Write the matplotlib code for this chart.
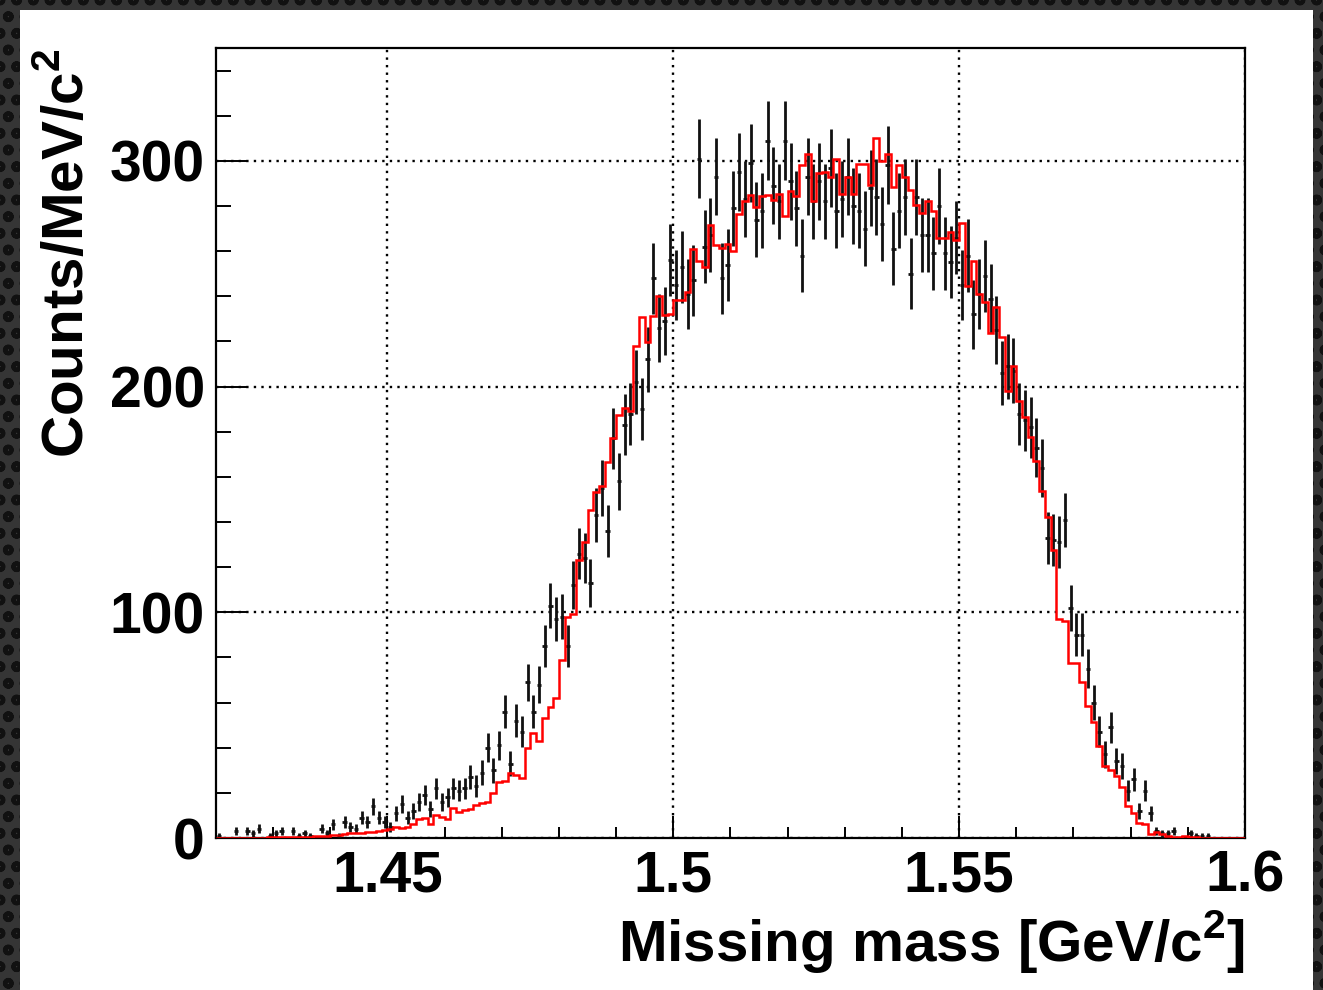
import numpy as np
import matplotlib
matplotlib.use("Agg")
import matplotlib.pyplot as plt
from matplotlib.patches import Rectangle

# Missing mass histogram, 1 MeV bins from 1.42 to 1.60 GeV/c^2
x_min, x_max = 1.42, 1.60
data_counts = [
    1, 0, 0, 3, 0, 3, 2, 4, 0, 1,
    2, 3, 0, 3, 1, 2, 1, 0, 4, 2,
    6, 1, 7, 5, 4, 9, 7, 14, 9, 7,
    5, 11, 15, 9, 12, 16, 19, 13, 22, 16,
    18, 22, 21, 22, 27, 23, 29, 40, 30, 41,
    56, 33, 52, 47, 69, 56, 68, 85, 103, 97,
    98, 85, 112, 126, 124, 113, 143, 155, 136, 177,
    158, 183, 188, 202, 190, 212, 248, 226, 229, 256,
    245, 253, 241, 247, 301, 262, 267, 293, 248, 254,
    279, 295, 283, 299, 274, 278, 309, 289, 282, 309,
    291, 279, 258, 293, 282, 291, 282, 297, 278, 283,
    293, 280, 278, 270, 288, 284, 272, 298, 261, 278,
    284, 250, 284, 267, 267, 259, 280, 259, 255, 266,
    245, 258, 232, 241, 249, 239, 225, 206, 209, 207,
    188, 185, 182, 173, 164, 133, 132, 131, 141, 102,
    90, 90, 75, 60, 47, 37, 49, 34, 32, 21,
    26, 12, 21, 11, 3, 2, 2, 3, 0, 0,
    2, 1, 1, 1, 0, 0, 0, 0, 0, 0,
]
mc_counts = [
    0.1, 0.1, 0.1, 0.1, 0.1, 0.2, 0.2, 0.2, 0.2, 0.3,
    0.3, 0.3, 0.3, 0.4, 0.4, 0.5, 0.6, 0.7, 0.9, 1.0,
    1.2, 1.3, 1.6, 2.0, 2.2, 2.4, 2.6, 2.8, 3.0, 3.4,
    3.9, 5.0, 4.6, 5.0, 6.3, 8.3, 9.0, 6.3, 10.2, 9.5,
    8.3, 13.2, 11.4, 12.4, 12.7, 14.7, 15.4, 16.1, 19.9, 24.6,
    25.3, 28.7, 28.0, 26.5, 39.9, 46.5, 43.1, 53.2, 57.9, 62.1,
    78.7, 98.1, 99.1, 123.3, 131.0, 145.5, 153.2, 155.9, 166.8, 177.2,
    187.3, 190.5, 189.0, 218.0, 231.0, 219.8, 231.4, 240.0, 231.6, 232.0,
    238.3, 238.3, 241.8, 261.0, 255.6, 253.0, 271.7, 262.8, 261.5, 263.0,
    260.0, 276.5, 282.0, 285.0, 279.6, 284.4, 285.0, 282.8, 285.3, 275.4,
    286.8, 284.4, 298.0, 303.0, 282.4, 294.6, 295.0, 292.9, 301.0, 285.5,
    293.0, 285.3, 298.7, 298.7, 289.5, 310.0, 300.0, 303.0, 288.4, 298.0,
    292.7, 287.3, 280.6, 277.0, 282.4, 278.0, 265.8, 265.8, 268.3, 265.0,
    272.4, 244.7, 255.7, 241.0, 237.3, 223.9, 235.4, 222.0, 197.9, 209.0,
    193.6, 186.5, 177.6, 167.2, 153.9, 142.0, 127.7, 96.9, 96.1, 77.6,
    77.6, 69.0, 58.7, 51.2, 40.6, 32.0, 30.2, 27.6, 22.5, 14.2,
    11.0, 6.8, 6.1, 1.8, 2.8, 1.8, 0.9, 0.6, 0.3, 0.9,
    0.3, 0.3, 0.2, 0.2, 0.1, 0.1, 0.1, 0.1, 0.1, 0.1,
]
x_ticks = [1.45, 1.50, 1.55, 1.60]
x_tick_labels = ["1.45", "1.5", "1.55", "1.6"]
y_ticks = [0, 100, 200, 300]
y_tick_labels = ["0", "100", "200", "300"]

plt.rcParams["font.family"] = "Liberation Sans"
plt.rcParams["font.weight"] = "bold"
plt.rcParams["mathtext.fontset"] = "custom"
plt.rcParams["mathtext.rm"] = "Liberation Sans:bold"
plt.rcParams["mathtext.bf"] = "Liberation Sans:bold"
plt.rcParams["hatch.linewidth"] = 3.0
plt.rcParams["hatch.color"] = "#111111"

W, H = 1323, 990
fig = plt.figure(figsize=(W / 100, H / 100), dpi=100, facecolor="#353535")
# dotted dark frame + white canvas
fig.patches.append(Rectangle((0, 0), 1, 1, transform=fig.transFigure, facecolor="#353535",
                             edgecolor="#111111", hatch="o", lw=0, zorder=-2))
fig.patches.append(Rectangle((20 / W, 0), (1313 - 20) / W, 980 / H, transform=fig.transFigure,
                             facecolor="white", edgecolor="none", zorder=-1))

ax = fig.add_axes([216 / W, (H - 838) / H, (1245 - 216) / W, (838 - 48) / H])

data = np.array(data_counts, dtype=float)
mc = np.array(mc_counts, dtype=float)
edges = np.linspace(x_min, x_max, len(data) + 1)
centers = 0.5 * (edges[:-1] + edges[1:])
m = data > 0

ax.errorbar(centers[m], data[m], yerr=np.sqrt(data[m]), xerr=0.0004, fmt="none",
            ecolor="#111111", elinewidth=2.0, capsize=0, zorder=3)
ax.stairs(mc, edges, color="red", lw=1.8, zorder=4)

ax.set_xlim(x_min, x_max)
ax.set_ylim(0, 350)
ax.set_xticks(x_ticks)
ax.set_xticklabels(x_tick_labels)
ax.set_xticks(np.arange(1.42, 1.6001, 0.01), minor=True)
ax.set_yticks(y_ticks)
ax.set_yticklabels(y_tick_labels)
ax.set_yticks(np.arange(0, 351, 20), minor=True)

ax.grid(True, which="major", color="black", linestyle=(0, (1, 2.2)), lw=1.7)
for s in ax.spines.values():
    s.set_linewidth(1.6)
ax.tick_params(axis="both", which="both", direction="in", top=False, right=False,
               width=1.4, labelsize=41)
ax.tick_params(axis="x", which="major", length=16, pad=8)
ax.tick_params(axis="x", which="minor", length=8)
ax.tick_params(axis="y", which="major", length=22, pad=8)
ax.tick_params(axis="y", which="minor", length=11)

fig.text(1245 / W, (H - 962) / H, r"Missing mass [GeV/c$^{2}$]", fontsize=42,
         fontweight="bold", ha="right", va="baseline")
fig.text(40 / W, (H - 48) / H, r"Counts/MeV/c$^{2}$", fontsize=42, fontweight="bold",
         rotation=90, ha="left", va="top")

fig.savefig("out.png", dpi=100, facecolor=fig.get_facecolor())
